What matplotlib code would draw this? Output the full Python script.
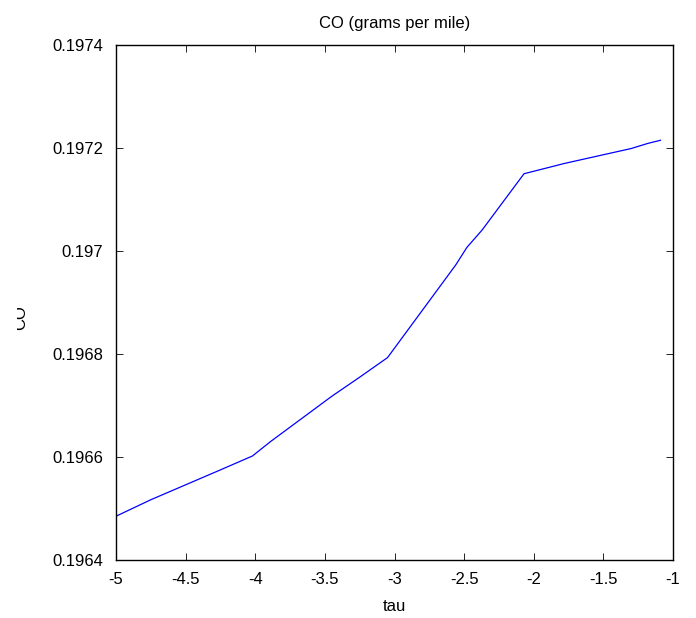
import matplotlib
matplotlib.use('Agg')
import matplotlib.pyplot as plt
from matplotlib.transforms import Bbox

# CO emissions vs tau
tau = [-5.0, -4.75, -4.5, -4.25, -4.02, -3.89, -3.77, -3.45, -3.25, -3.05,
       -2.56, -2.48, -2.37, -2.07, -1.78, -1.30, -1.18, -1.09]
co = [0.196485, 0.196517, 0.196546, 0.196575, 0.196602, 0.196630, 0.196654,
      0.196718, 0.196755, 0.196793, 0.196973, 0.197007, 0.197041, 0.197150,
      0.197170, 0.197199, 0.197209, 0.197215]

xticks = [-5, -4.5, -4, -3.5, -3, -2.5, -2, -1.5, -1]
xticklabels = ['-5', '-4.5', '-4', '-3.5', '-3', '-2.5', '-2', '-1.5', '-1']
yticks = [0.1964, 0.1966, 0.1968, 0.197, 0.1972, 0.1974]
yticklabels = ['0.1964', '0.1966', '0.1968', '0.197', '0.1972', '0.1974']

plt.rcParams['font.family'] = ['Liberation Sans', 'DejaVu Sans']
plt.rcParams['font.size'] = 12

fig = plt.figure(figsize=(6.96, 6.18), dpi=100)
ax = fig.add_axes([116 / 696, 1 - 560 / 618, 557 / 696, 515 / 618])

ax.plot(tau, co, color='#0000ff', linewidth=0.9)

ax.set_xlim(-5, -1)
ax.set_ylim(0.1964, 0.1974)
ax.set_xticks(xticks)
ax.set_xticklabels(xticklabels)
ax.set_yticks(yticks)
ax.set_yticklabels(yticklabels)
ax.tick_params(direction='in', top=True, right=True, length=5, width=0.6,
               pad=9, colors='black')
for s in ax.spines.values():
    s.set_linewidth(1.0)

ax.set_title('CO (grams per mile)', fontsize=12, pad=12.5)
ax.set_xlabel('tau', labelpad=8)
lbl = ax.set_ylabel('CO', labelpad=0)
ax.yaxis.set_label_coords(-0.158, 0.47)
# the left edge of the label is cut off
lbl.set_clip_box(Bbox([[17, 0], [696, 618]]))
lbl.set_clip_on(True)

fig.savefig('out.png', dpi=100)
